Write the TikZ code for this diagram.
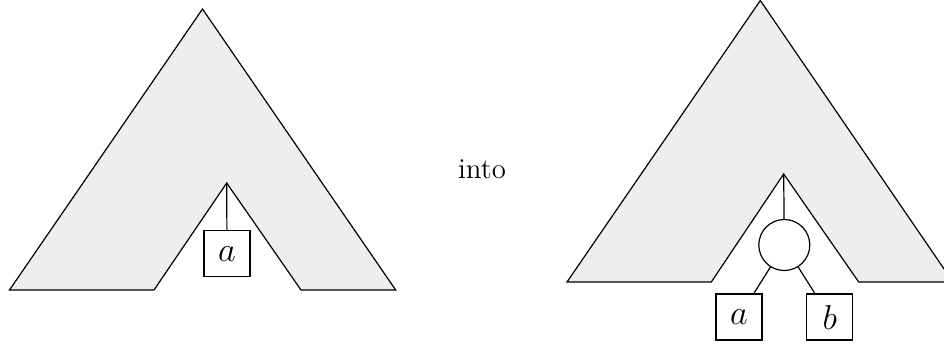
\documentclass[tikz,border=0pt]{standalone}
\definecolor{treegray}{HTML}{EEEEEE}

\begin{document}
\begin{tikzpicture}[x=0.5pt, y=-0.5pt, line width=0.6pt,
  leaf/.style={draw, fill=white, minimum size=23pt, inner sep=0pt, font=\LARGE},
  inner/.style={draw, circle, fill=white, minimum size=25.5pt, inner sep=0pt}]
  \clip (0,0) rectangle (944,344);
  % 左边的树：顶点 P，下方缺口顶点 Q
  \coordinate (P)  at (202.5, 9);
  \coordinate (L1) at (9.5, 290);
  \coordinate (L2) at (154, 290);
  \coordinate (Q)  at (226.7, 183);
  \coordinate (L3) at (301, 290);
  \coordinate (L4) at (395.7, 290);

  \draw[fill=treegray] (P) -- (L1) -- (L2) -- (Q) -- (L3) -- (L4) -- cycle;

  \node[leaf] (a) at (227, 253.7) {$a$};
  \draw (Q) -- (a);

  % 中间文字
  \node[anchor=base, font=\Large] (into) at (482, 178) {into};

  % 右边的树：缺口处换成一个内部结点
  \coordinate (R)  at (760.3, 0.5);
  \coordinate (M1) at (567, 282);
  \coordinate (M2) at (711.3, 282);
  \coordinate (S)  at (783.7, 174);
  \coordinate (M3) at (858.7, 282);
  \coordinate (M4) at (953, 282);

  \draw[fill=treegray] (R) -- (M1) -- (M2) -- (S) -- (M3) -- (M4) -- cycle;

  \node[inner] (c)  at (784.3, 245) {};
  \node[leaf]  (a2) at (739, 317) {$a$};
  \node[leaf]  (b)  at (829.7, 317) {$b$};

  \draw (S) -- (c);
  \draw (c) -- (a2);
  \draw (c) -- (b);
\end{tikzpicture}
\end{document}
